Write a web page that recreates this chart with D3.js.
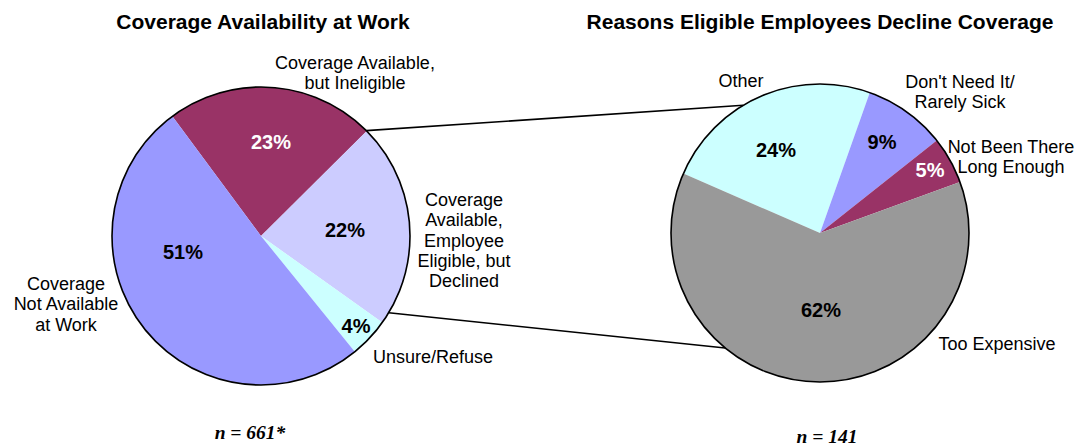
<!DOCTYPE html>
<html>
<head>
<meta charset="utf-8">
<script src="https://cdn.jsdelivr.net/npm/d3@7"></script>
<style>
  body { margin: 0; background: #fff; }
  text { font-family: "Liberation Sans", Arial, sans-serif; }
</style>
</head>
<body>
<div id="chart"></div>
<script>
// left pie: coverage availability
var leftCats = ["Coverage Available, but Ineligible", "Coverage Available, Employee Eligible, but Declined", "Unsure/Refuse", "Coverage Not Available at Work"];
var leftVals = [22.7, 22.3, 4.3, 50.7];
var leftColors = ["#993366", "#ccccff", "#ccffff", "#9999ff"];

// right pie: reasons for declining
var rightCats = ["Other", "Don't Need It/ Rarely Sick", "Not Been There Long Enough", "Too Expensive"];
var rightVals = [23.9, 8.9, 5.1, 62.1];
var rightColors = ["#ccffff", "#9999ff", "#993366", "#999999"];

var width = 1086, height = 446;
var svg = d3.select("#chart").append("svg")
    .attr("width", width)
    .attr("height", height);

var r = 149;
var deg = Math.PI / 180;

function drawPie(cx, cy, vals, colors, start) {
    var pie = d3.pie().sort(null).value(function(d) { return d; })
        .startAngle(start * deg).endAngle(start * deg + 2 * Math.PI);
    var arc = d3.arc().innerRadius(0).outerRadius(r);
    var g = svg.append("g").attr("transform", "translate(" + cx + "," + cy + ")");
    g.selectAll("path")
        .data(pie(vals))
        .enter()
        .append("path")
        .attr("d", arc)
        .attr("fill", function(d, i) { return colors[i]; });
    g.append("circle")
        .attr("r", r)
        .attr("fill", "none")
        .attr("stroke", "#000")
        .attr("stroke-width", 1.6);
    return g;
}

var L = {x: 261, y: 236}, R = {x: 820, y: 233};
drawPie(L.x, L.y, leftVals, leftColors, -36.5);
drawPie(R.x, R.y, rightVals, rightColors, -66.5);

function edge(c, a) {
    return [c.x + r * Math.sin(a * deg), c.y - r * Math.cos(a * deg)];
}

// connector lines between the two pies
[[45, -31], [121, 219.5]].forEach(function(p) {
    var a = edge(L, p[0]), b = edge(R, p[1]);
    svg.append("line")
        .attr("x1", a[0]).attr("y1", a[1])
        .attr("x2", b[0]).attr("y2", b[1])
        .attr("stroke", "#000")
        .attr("stroke-width", 1.6);
});

// titles
svg.append("text")
    .attr("x", 263).attr("y", 29)
    .attr("text-anchor", "middle")
    .style("font-size", "21px").style("font-weight", "bold")
    .text("Coverage Availability at Work");
svg.append("text")
    .attr("x", 820).attr("y", 29)
    .attr("text-anchor", "middle")
    .style("font-size", "21px").style("font-weight", "bold")
    .text("Reasons Eligible Employees Decline Coverage");

// percent labels (baseline positions)
var pctLabels = [
    {t: "23%", x: 271, y: 149, c: "#fff"},
    {t: "22%", x: 345, y: 237, c: "#000"},
    {t: "4%", x: 356, y: 333, c: "#000"},
    {t: "51%", x: 183, y: 259, c: "#000"},
    {t: "24%", x: 776, y: 157, c: "#000"},
    {t: "9%", x: 882, y: 149, c: "#000"},
    {t: "5%", x: 930, y: 177, c: "#fff"},
    {t: "62%", x: 821, y: 317, c: "#000"}
];
svg.selectAll(".pct")
    .data(pctLabels)
    .enter()
    .append("text")
    .attr("class", "pct")
    .attr("x", function(d) { return d.x; })
    .attr("y", function(d) { return d.y; })
    .attr("text-anchor", "middle")
    .attr("fill", function(d) { return d.c; })
    .style("font-size", "20px").style("font-weight", "bold")
    .text(function(d) { return d.t; });

// category labels (first baseline)
var catLabels = [
    {lines: ["Coverage Available,", "but Ineligible"], x: 355, y: 69},
    {lines: ["Coverage", "Available,", "Employee", "Eligible, but", "Declined"], x: 464, y: 206},
    {lines: ["Unsure/Refuse"], x: 433, y: 363},
    {lines: ["Coverage", "Not Available", "at Work"], x: 66, y: 290},
    {lines: ["Other"], x: 741, y: 87},
    {lines: ["Don't Need It/", "Rarely Sick"], x: 960, y: 88},
    {lines: ["Not Been There", "Long Enough"], x: 1011, y: 153},
    {lines: ["Too Expensive"], x: 997, y: 350}
];
catLabels.forEach(function(d) {
    var t = svg.append("text")
        .attr("text-anchor", "middle")
        .style("font-size", "18px");
    d.lines.forEach(function(s, i) {
        t.append("tspan")
            .attr("x", d.x)
            .attr("y", d.y + i * 20.3)
            .text(s);
    });
});

// sample sizes
svg.append("text")
    .attr("x", 250).attr("y", 439)
    .attr("text-anchor", "middle")
    .style("font-family", "'Liberation Serif', 'Times New Roman', serif")
    .style("font-size", "19.5px").style("font-weight", "bold").style("font-style", "italic")
    .text("n = 661*");
svg.append("text")
    .attr("x", 827).attr("y", 443)
    .attr("text-anchor", "middle")
    .style("font-family", "'Liberation Serif', 'Times New Roman', serif")
    .style("font-size", "19.5px").style("font-weight", "bold").style("font-style", "italic")
    .text("n = 141");
</script>
</body>
</html>
